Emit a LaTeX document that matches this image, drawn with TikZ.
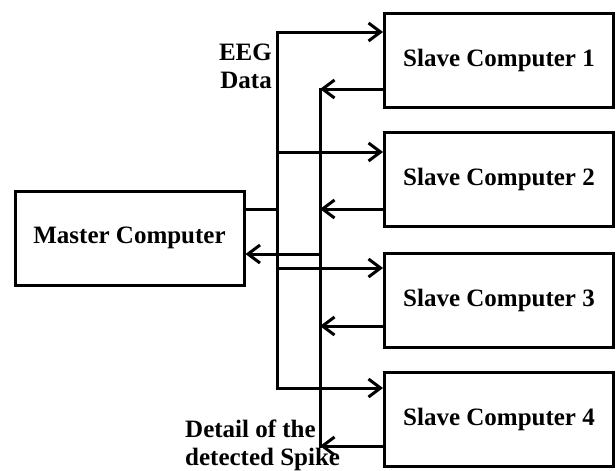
\documentclass[tikz,border=0pt]{standalone}
\usepackage{fontspec}
\setmainfont{Liberation Serif}
\usetikzlibrary{arrows.meta}

\begin{document}
\begin{tikzpicture}[x=1pt, y=-1pt,
    font=\fontsize{25}{28}\selectfont\bfseries,
    box/.style={draw, line width=3pt, minimum width=229pt, minimum height=94pt},
    wire/.style={line width=3pt, line cap=rect},
    arr/.style={wire, -{Straight Barb[length=12pt, width=18pt]}}]
    \useasboundingbox (0,0) rectangle (616,471);

    \node[box] (master) at (129.5,238) {Master Computer};

    \node[box] (s1) at (499,60) {Slave Computer 1};
    \node[box] (s2) at (499,179.5) {Slave Computer 2};
    \node[box] (s3) at (499,300) {Slave Computer 3};
    \node[box] (s4) at (499,419.5) {Slave Computer 4};

    % EEG data bus
    \coordinate (d1) at (277,32);
    \coordinate (d2) at (277,152);
    \coordinate (d3) at (277,268);
    \coordinate (d4) at (277,388);
    \coordinate (dm) at (277,209);
    \draw[wire] (d1) -- (d4);
    \draw[wire] (master.east |- dm) -- (dm);
    \foreach \k in {1,...,4}
        \draw[arr] (d\k) -- (s\k.west |- d\k);

    % spike detail bus
    \coordinate (r1) at (320,89);
    \coordinate (r2) at (320,209);
    \coordinate (r3) at (320,326);
    \coordinate (r4) at (320,446);
    \coordinate (rm) at (320,254);
    \draw[wire] (r1) -- (r4);
    \foreach \k in {1,...,4}
        \draw[arr] (s\k.west |- r\k) -- (r\k);
    \draw[arr] (rm) -- (master.east |- rm);

    \node[anchor=east, align=right, inner sep=0pt] (eeg) at (272,66) {EEG\\Data};
    \node[anchor=west, align=left, inner sep=0pt] (spike) at (185,445) {Detail of the\\detected Spike};
\end{tikzpicture}
\end{document}
